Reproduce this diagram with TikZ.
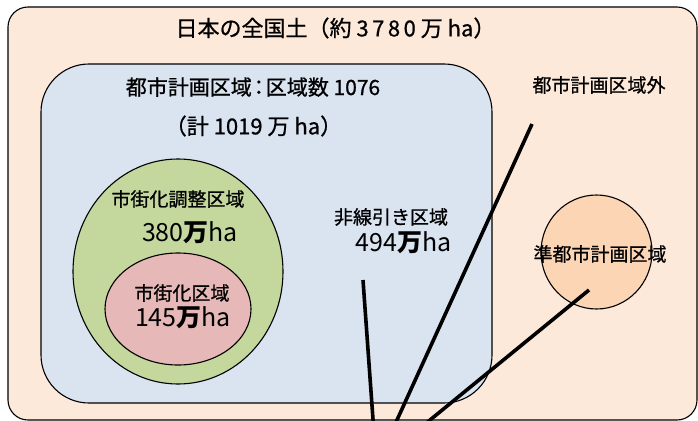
\documentclass[tikz,border=0pt]{standalone}
\usepackage{fontspec}
\setmainfont{Noto Sans CJK JP}
\newfontfamily\jpheavy[FakeBold=0.8]{Noto Sans CJK JP}
\usetikzlibrary{shapes.geometric}
\definecolor{outerc}{HTML}{FCE9DA}
\definecolor{bluec}{HTML}{DAE3F0}
\definecolor{greenc}{HTML}{C4D79D}
\definecolor{pinkc}{HTML}{E6B8B7}
\definecolor{orangec}{HTML}{FCD5B5}
\newcommand\dk{\kern3.5pt}
\begin{document}
\begin{tikzpicture}[x=1pt,y=-1pt,
  region/.style={draw=black, line width=1.1pt, inner sep=0pt, outer sep=0pt},
  oval/.style={region, ellipse},
  lbl/.style={inner sep=0pt, font=\jpheavy\fontsize{19}{22}\selectfont},
  hdr/.style={inner sep=0pt, font=\jpheavy\fontsize{22}{26}\selectfont},
  num/.style={inner sep=0pt, font=\fontsize{25}{28}\selectfont},
  leader/.style={line width=3.6pt, draw=black}]
\useasboundingbox (0,0) rectangle (698,420);
\fill[white] (0,0) rectangle (698,420);
\begin{scope}
\clip (0,0) rectangle (698,420);
\node[region, fill=outerc, rounded corners=20pt, minimum width=689pt, minimum height=413pt] (japan) at (352.5,213.5) {};
\node[region, fill=bluec, rounded corners=48pt, minimum width=451pt, minimum height=339pt] (city) at (266.5,233.5) {};
\node[oval, fill=greenc, minimum width=210pt, minimum height=225pt] (urbctl) at (178,271.5) {};
\node[oval, fill=pinkc, minimum width=146pt, minimum height=112pt] (urb) at (178,309) {};
\node[oval, fill=orangec, minimum width=111pt, minimum height=114pt] (quasi) at (596.5,252) {};

\node[hdr] (title) at (335.5,28) {日本の全国土（約 3\dk7\dk8\dk0 万 ha）};
\node[hdr, font=\jpheavy\fontsize{21}{25}\selectfont] (citytitle) at (253,87) {都市計画区域\kern-3.5pt：\kern-3.5pt区域数 1076};
\node[hdr] (citysum) at (253.5,126) {（計 1019 万 ha）};
\node[lbl] (outside) at (599,85) {都市計画区域外};
\node[lbl] (ctltitle) at (178,199) {市街化調整区域};
\node[num] (ctlnum) at (190,233) {380\textbf{万}ha};
\node[lbl] (urbtitle) at (182,293) {市街化区域};
\node[num] (urbnum) at (183,318) {145\textbf{万}ha};
\node[lbl] (nontitle) at (391,217) {非線引き区域};
\node[num] (nonnum) at (403.5,243) {494\textbf{万}ha};
\node[lbl] (quasititle) at (600,254) {準都市計画区域};

\coordinate (l1a) at (363,280);
\coordinate (l1b) at (373.4,425);
\coordinate (l2a) at (532,124);
\coordinate (l2b) at (394.7,425);
\coordinate (l3a) at (589,290);
\coordinate (l3b) at (423.9,425);
\draw[leader] (l1a) -- (l1b);
\draw[leader] (l2a) -- (l2b);
\draw[leader] (l3a) -- (l3b);
\end{scope}
\end{tikzpicture}
\end{document}
